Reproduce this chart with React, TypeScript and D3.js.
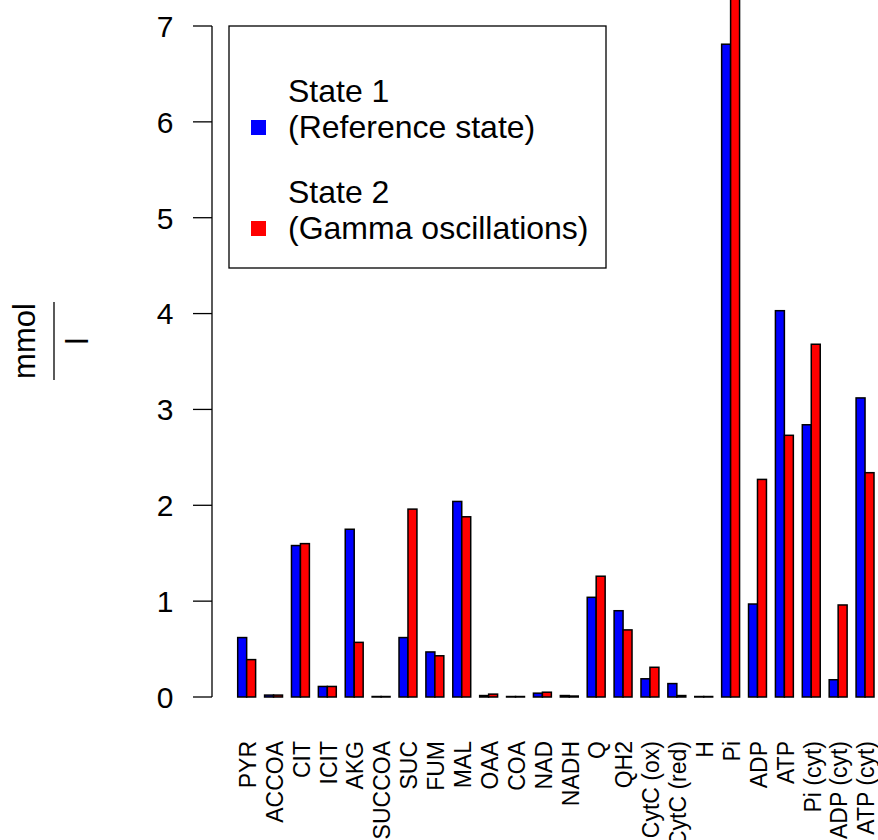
import React, { useRef, useEffect } from 'react';
import * as d3 from 'd3';

// metabolite names, in plot order
const categories: string[] = [
  'PYR', 'ACCOA', 'CIT', 'ICIT', 'AKG', 'SUCCOA', 'SUC', 'FUM', 'MAL', 'OAA', 'COA', 'NAD',
  'NADH', 'Q', 'QH2', 'CytC (ox)', 'CytC (red)', 'H', 'Pi', 'ADP', 'ATP', 'Pi (cyt)', 'ADP (cyt)', 'ATP (cyt)',
];

// concentrations in mmol/l
const state1: number[] = [
  0.62, 0.02, 1.58, 0.11, 1.75, 0.005, 0.62, 0.47, 2.04, 0.015, 0.005, 0.04,
  0.015, 1.04, 0.9, 0.19, 0.14, 0.005, 6.81, 0.97, 4.03, 2.84, 0.18, 3.12,
];
const state2: number[] = [
  0.39, 0.02, 1.6, 0.11, 0.57, 0.005, 1.96, 0.43, 1.88, 0.03, 0.005, 0.05,
  0.01, 1.26, 0.7, 0.31, 0.015, 0.005, 7.5, 2.27, 2.73, 3.68, 0.96, 2.34,
];

const seriesNames: string[][] = [
  ['State 1', '(Reference state)'],
  ['State 2', '(Gamma oscillations)'],
];
const seriesColors: string[] = ['#0000ff', '#ff0000'];
const yTicks: number[] = [0, 1, 2, 3, 4, 5, 6, 7];

function BarChart() {
  const svgRef = useRef<SVGSVGElement>(null);

  useEffect(() => {
    if (!svgRef.current) return;

    const width = 878;
    const height = 840;
    const font = 'Liberation Sans, Arial, Helvetica, sans-serif';

    const svg = d3.select(svgRef.current);
    svg.selectAll('*').remove();
    svg.attr('width', width).attr('height', height);

    const y = d3.scaleLinear().domain([0, 7]).range([697, 26]);

    // groups: one space unit then two bars (like R barplot beside=TRUE)
    const x = d3.scaleBand<string>()
      .domain(categories)
      .range([237.7, 874])
      .paddingInner(1 / 3)
      .paddingOuter(0);

    const inner = d3.scaleBand<number>()
      .domain([0, 1])
      .range([0, x.bandwidth()]);

    const rows = categories.map((c, i) => ({ c, vals: [state1[i], state2[i]] }));

    const groups = svg.append('g')
      .selectAll('g')
      .data(rows)
      .enter().append('g')
      .attr('transform', d => `translate(${x(d.c)},0)`);

    groups.selectAll('rect')
      .data(d => d.vals)
      .enter().append('rect')
      .attr('x', (_, j) => inner(j) as number)
      .attr('width', inner.bandwidth())
      .attr('y', v => y(v))
      .attr('height', v => y(0) - y(v))
      .attr('fill', (_, j) => seriesColors[j])
      .attr('stroke', '#000')
      .attr('stroke-width', 1.5);

    // y axis, R style
    const axisX = 212;
    const yAxis = svg.append('g').attr('stroke', '#000').attr('stroke-width', 1.3);
    yAxis.append('line')
      .attr('x1', axisX).attr('x2', axisX)
      .attr('y1', y(0)).attr('y2', y(7));
    yAxis.selectAll('line.tick')
      .data(yTicks)
      .enter().append('line')
      .attr('class', 'tick')
      .attr('x1', axisX - 19).attr('x2', axisX)
      .attr('y1', d => y(d)).attr('y2', d => y(d));

    svg.append('g')
      .selectAll('text')
      .data(yTicks)
      .enter().append('text')
      .attr('x', 165)
      .attr('y', d => y(d))
      .attr('dy', '0.36em')
      .attr('text-anchor', 'middle')
      .attr('font-family', font)
      .attr('font-size', 30)
      .text(d => d);

    // category labels, rotated
    svg.append('g')
      .selectAll('text')
      .data(categories)
      .enter().append('text')
      .attr('transform', d => `translate(${(x(d) as number) + x.bandwidth() / 2 + 1},741) rotate(-90)`)
      .attr('dy', '0.36em')
      .attr('text-anchor', 'end')
      .attr('font-family', font)
      .attr('font-size', 23)
      .text(d => d);

    // y label as a fraction mmol / l
    const ylab = svg.append('g').attr('font-family', font).attr('font-size', 31);
    ylab.append('text')
      .attr('transform', 'translate(35,341) rotate(-90)')
      .attr('text-anchor', 'middle')
      .text('mmol');
    ylab.append('line')
      .attr('x1', 54).attr('x2', 54)
      .attr('y1', 302).attr('y2', 380)
      .attr('stroke', '#000')
      .attr('stroke-width', 1.3);
    ylab.append('text')
      .attr('transform', 'translate(88,341) rotate(-90)')
      .attr('text-anchor', 'middle')
      .text('l');

    // legend
    const legend = svg.append('g').attr('font-family', font).attr('font-size', 32);
    legend.append('rect')
      .attr('x', 229).attr('y', 26)
      .attr('width', 377).attr('height', 242)
      .attr('fill', 'none')
      .attr('stroke', '#000')
      .attr('stroke-width', 1.3);

    const items = legend.selectAll('g.item')
      .data(seriesNames)
      .enter().append('g')
      .attr('class', 'item')
      .attr('transform', (_, i) => `translate(0,${i * 101})`);

    items.append('rect')
      .attr('x', 251).attr('y', 120)
      .attr('width', 15).attr('height', 15)
      .attr('fill', (_, i) => seriesColors[i]);

    items.append('text')
      .attr('x', 288).attr('y', 102)
      .text(d => d[0]);
    items.append('text')
      .attr('x', 288).attr('y', 138)
      .text(d => d[1]);
  }, []);

  return <svg ref={svgRef} style={{ position: 'absolute', left: 0, top: 0, background: '#fff' }}></svg>;
}

export default function App() {
  return <BarChart />;
}
